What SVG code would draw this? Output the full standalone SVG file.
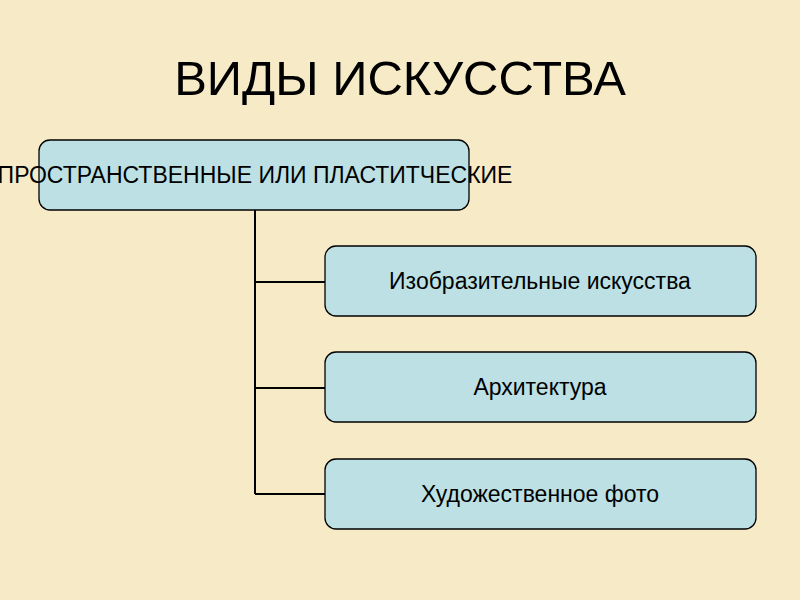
<svg xmlns="http://www.w3.org/2000/svg" width="800" height="600" viewBox="0 0 800 600">
<style>
.box{fill:#bce0e3;stroke:#000;stroke-width:1.3}
.t{font-family:"Liberation Sans",Arial,sans-serif;font-size:23px;fill:#000;text-anchor:middle}
.c{stroke:#000;stroke-width:2;fill:none}
</style>
<rect width="800" height="600" fill="#f7eac6"/>
<text x="400" y="95" font-family="Liberation Sans, Arial, sans-serif" font-size="49" text-anchor="middle" fill="#000">ВИДЫ ИСКУССТВА</text>
<g id="connectors">
<path class="c" d="M255 210V494M255 282H325M255 388H325M255 494H325"/>
</g>
<g id="root">
<rect class="box" x="39" y="140" width="430" height="70" rx="11"/>
<text class="t" x="255" y="183">ПРОСТРАНСТВЕННЫЕ ИЛИ ПЛАСТИТЧЕСКИЕ</text>
</g>
<g id="n1">
<rect class="box" x="325" y="246" width="431" height="70" rx="11"/>
<text class="t" x="540" y="289">Изобразительные искусства</text>
</g>
<g id="n2">
<rect class="box" x="325" y="352" width="431" height="70" rx="11"/>
<text class="t" x="540" y="395">Архитектура</text>
</g>
<g id="n3">
<rect class="box" x="325" y="459" width="431" height="70" rx="11"/>
<text class="t" x="540" y="502">Художественное фото</text>
</g>
</svg>
